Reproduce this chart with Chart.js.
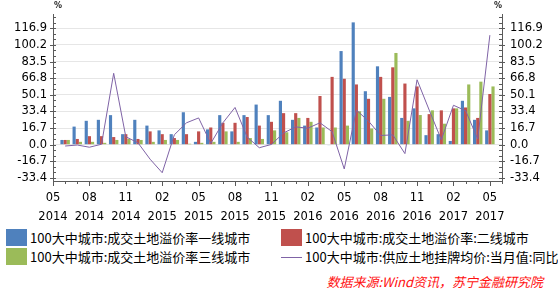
<!DOCTYPE html>
<html>
<head>
<meta charset="utf-8">
<script src="https://cdn.jsdelivr.net/npm/chart.js@4/dist/chart.umd.min.js"></script>
<style>
  html, body { margin: 0; padding: 0; background: #fff; }
  #wrap { position: relative; width: 558px; height: 292px; overflow: hidden; }
  #box { position: absolute; left: 0; top: 0; width: 558px; height: 226px; }
  .pct { position: absolute; top: 1px; font: bold 8px "DejaVu Sans"; color: #222; }
  .lg { position: absolute; font: 13px "Noto Sans CJK SC"; line-height: 17px; color: #000; white-space: nowrap; }
  .sw { position: absolute; width: 21px; height: 17px; }
  .ln { position: absolute; width: 21px; height: 1px; background: #7f63a6; }
  #src { position: absolute; right: 15px; top: 273px; font: italic 13px "Noto Sans CJK SC"; line-height: 17px; color: #ff1010; white-space: nowrap; }
</style>
</head>
<body>
<div id="wrap">
  <div id="box"><canvas id="chart"></canvas></div>
  <div class="pct" style="left:54px">%</div>
  <div class="pct" style="left:494px">%</div>

  <div class="sw" style="left:6px;top:229px;background:#4f81bd"></div>
  <div class="lg" style="left:30px;top:229px">100大中城市:成交土地溢价率一线城市</div>
  <div class="sw" style="left:281px;top:229px;background:#c0504d"></div>
  <div class="lg" style="left:305px;top:229px">100大中城市:成交土地溢价率:二线城市</div>
  <div class="sw" style="left:6px;top:248px;background:#9bbb59"></div>
  <div class="lg" style="left:30px;top:248px">100大中城市:成交土地溢价率三线城市</div>
  <div class="ln" style="left:281px;top:257px"></div>
  <div class="lg" style="left:305px;top:248px">100大中城市:供应土地挂牌均价:当月值:同比</div>

  <div id="src">数据来源:Wind资讯，苏宁金融研究院</div>
</div>
<script>
// ── Data ────────────────────────────────────────────────
const months = [
  '2014-05', '2014-06', '2014-07', '2014-08', '2014-09', '2014-10', '2014-11', '2014-12',
  '2015-01', '2015-02', '2015-03', '2015-04', '2015-05', '2015-06', '2015-07', '2015-08',
  '2015-09', '2015-10', '2015-11', '2015-12', '2016-01', '2016-02', '2016-03', '2016-04',
  '2016-05', '2016-06', '2016-07', '2016-08', '2016-09', '2016-10', '2016-11', '2016-12',
  '2017-01', '2017-02', '2017-03', '2017-04', '2017-05', '2017-06'
];

const tier1 = [
  null, 4.8, 18.2, 24, 25, 29.7, 10.6, 25,
  19.2, 14.4, 10.6, 32.6, 2.9, 15.4, 29.7, 13.4,
  29.7, 40.3, 29.7, 44.1, 25, 19.2, 17.3, -0.6,
  94, 122.8, 53.7, 78.7, 48, 26.9, 36.5, 9.6,
  10.6, 3.8, 44.1, 25, 14.4, null
];

const tier2 = [
  null, 4.8, 5.8, 8.6, 8.6, 7.7, 10.6, 5.8,
  13.4, 10.6, 6.7, 10.6, 13.4, 17.3, 22, 22,
  27.8, 19.2, 23, 31.7, 31.7, 26.9, 48.9, 68.1,
  66.2, 60.5, 46.1, 68.1, 77.7, 61.4, 58.5, 30.7,
  34.5, 36.5, 37.4, 26.9, 50.9, null
];

const tier3 = [
  null, 4.8, 2.9, 2.9, 1.9, 4.8, 5.8, 4.8,
  2.9, 4.8, 4.8, 1, 1.9, 2.9, 13.4, 2.9,
  6.7, 5.8, 14.4, 12.5, 26.9, 23, 17.3, 17.3,
  19.2, 33.6, 16.3, 46.1, 92.1, 24, 29.8, 34.5,
  21.1, 36.5, 60.5, 63.3, 58.5, null
];

const supplyYoY = [
  null, -1.3, -0.3, -2.5, 0.5, 71.7, 8, 2,
  -14.5, -28.1, 10, 22, 26.9, 1.3, 22, 37.4,
  7.7, -3, 0.3, 11.8, 17.9, 16.6, 22, 13.1,
  -24.3, 34.8, 23.7, 9.3, 9.9, -8.9, 65.2, 34.8,
  5, 39.6, 34.2, 5.8, 110, null
];

const yTickLabels = ['-33.4', '-16.7', '0.0', '16.7', '33.4', '50.1', '66.8', '83.5', '100.2', '116.9'];

// ── Styles ──────────────────────────────────────────────
const AXIS = '#5a5a5a';
const NUM_FONT = { family: 'DejaVu Sans', size: 11.5 };
const Y_MIN = -36.4, Y_MAX = 130.3, Y_STEP = 16.7;

function xLabel(v, i) {
  const m = months[i];
  if (i % 3 !== 0 || i >= months.length - 1) return '';
  return [m.slice(5), m.slice(0, 4)];
}

// small/large tick marks the way the original axis draws them
const axisTicks = {
  id: 'axisTicks',
  afterDraw(chart) {
    const { ctx, chartArea: a, scales } = chart;
    ctx.save();
    ctx.strokeStyle = AXIS;
    ctx.lineWidth = 1;
    ctx.beginPath();
    months.forEach((m, i) => {
      const px = Math.round(scales.x.getPixelForValue(i)) + 0.5;
      const len = i % 3 === 0 ? 5 : 3;
      ctx.moveTo(px, a.bottom);
      ctx.lineTo(px, a.bottom + len);
    });
    const sub = Y_STEP / 3;
    for (let k = Math.ceil(Y_MIN / sub); k * sub <= Y_MAX; k++) {
      const py = Math.round(scales.y.getPixelForValue(k * sub)) + 0.5;
      const major = k % 3 === 0;
      ctx.moveTo(a.left - (major ? 3 : 0), py);
      ctx.lineTo(a.left + 3, py);
      ctx.moveTo(a.right - 3, py);
      ctx.lineTo(a.right + (major ? 3 : 0), py);
    }
    ctx.stroke();
    ctx.restore();
  }
};

const barDefaults = {
  categoryPercentage: 0.78,
  barPercentage: 1,
  borderWidth: 0,
  order: 2,
};

new Chart(document.getElementById('chart'), {
  type: 'bar',
  data: {
    labels: months,
    datasets: [
      { ...barDefaults, label: '100大中城市:成交土地溢价率一线城市', data: tier1, backgroundColor: '#4f81bd' },
      { ...barDefaults, label: '100大中城市:成交土地溢价率:二线城市', data: tier2, backgroundColor: '#c0504d' },
      { ...barDefaults, label: '100大中城市:成交土地溢价率三线城市', data: tier3, backgroundColor: '#9bbb59' },
      {
        type: 'line',
        label: '100大中城市:供应土地挂牌均价:当月值:同比',
        data: supplyYoY,
        borderColor: '#7f63a6',
        borderWidth: 1,
        pointRadius: 0,
        tension: 0,
        fill: false,
        order: 1,
      },
    ],
  },
  options: {
    responsive: true,
    maintainAspectRatio: false,
    animation: false,
    layout: { padding: { top: 7, left: 0, right: 0, bottom: 0 } },
    plugins: { legend: { display: false }, tooltip: { enabled: false } },
    scales: {
      x: {
        offset: false,
        grid: { display: false, drawTicks: false },
        border: { color: AXIS },
        ticks: {
          autoSkip: false, maxRotation: 0, padding: 8, color: '#000',
          font: { ...NUM_FONT, lineHeight: 1.6 },
          callback: xLabel,
        },
        afterFit: s => { s.height = 45; },
      },
      y: {
        position: 'left',
        min: Y_MIN, max: Y_MAX,
        afterBuildTicks: s => { s.ticks = yTickLabels.map(t => ({ value: parseFloat(t) })); },
        afterFit: s => { s.width = 53; },
        grid: { color: '#e6e6e6', drawTicks: false },
        border: { color: AXIS },
        ticks: { padding: 6, color: '#000', font: NUM_FONT, callback: (v, i) => yTickLabels[i] },
      },
      y2: {
        position: 'right',
        min: Y_MIN, max: Y_MAX,
        afterBuildTicks: s => { s.ticks = yTickLabels.map(t => ({ value: parseFloat(t) })); },
        afterFit: s => { s.width = 56; },
        grid: { drawOnChartArea: false, drawTicks: false },
        border: { color: AXIS },
        ticks: { padding: 8, color: '#000', font: NUM_FONT, callback: (v, i) => yTickLabels[i] },
      },
    },
  },
  plugins: [axisTicks],
});
</script>
</body>
</html>
